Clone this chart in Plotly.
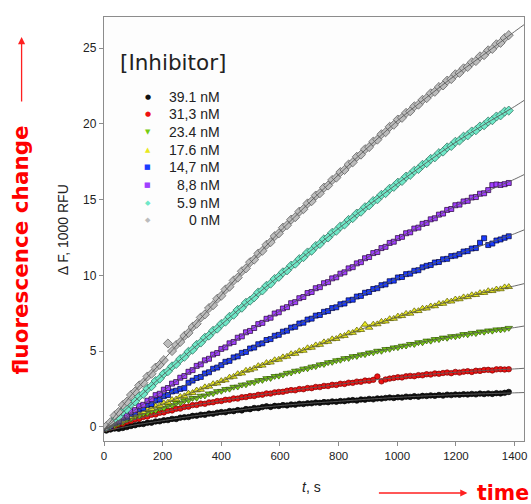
import plotly.graph_objects as go

# ---------------- data ----------------
# sampling times of the measured points (s)
t_points = list(range(8, 1381, 14))

inh_39_1 = [-0.25, -0.18, -0.12, -0.13, -0.08, -0.02, 0.05,
            0.1, 0.17, 0.18, 0.26, 0.27, 0.35, 0.36,
            0.43, 0.44, 0.52, 0.51, 0.6, 0.63, 0.64,
            0.72, 0.73, 0.8, 0.79, 0.87, 0.86, 0.93,
            0.97, 0.96, 1.04, 1.03, 1.1, 1.08, 1.17, 1.16,
            1.24, 1.23, 1.3, 1.35, 1.31, 1.38, 1.37,
            1.43, 1.41, 1.47, 1.46, 1.52, 1.5, 1.55,
            1.55, 1.6, 1.58, 1.63, 1.62, 1.67, 1.65,
            1.7, 1.69, 1.74, 1.76, 1.73, 1.8, 1.79,
            1.84, 1.81, 1.87, 1.86, 1.9, 1.93, 1.9,
            1.95, 1.93, 1.99, 1.97, 2.02, 1.99, 2.04,
            2.03, 2.07, 2.04, 2.1, 2.06, 2.12, 2.09, 2.13,
            2.11, 2.15, 2.13, 2.17, 2.14, 2.19, 2.16,
            2.2, 2.17, 2.22, 2.2, 2.24, 2.3]
inh_31_3 = [-0.12, -0.04, 0.02, 0.16, 0.2, 0.33, 0.38,
            0.5, 0.53, 0.65, 0.67, 0.79, 0.81, 0.92,
            0.95, 1.06, 1.08, 1.19, 1.2, 1.31, 1.33,
            1.43, 1.44, 1.53, 1.52, 1.61, 1.62, 1.7,
            1.7, 1.78, 1.79, 1.87, 1.86, 1.95, 1.96, 2.03,
            2.03, 2.11, 2.12, 2.2, 2.19, 2.27, 2.3,
            2.31, 2.38, 2.42, 2.41, 2.49, 2.48, 2.56,
            2.55, 2.63, 2.62, 2.7, 2.69, 2.77, 2.76,
            2.84, 2.83, 2.91, 2.9, 2.98, 2.97, 3.05,
            3.04, 3.1, 3.32, 3.0, 3.12, 3.18, 3.22,
            3.27, 3.26, 3.33, 3.36, 3.34, 3.41, 3.4,
            3.47, 3.45, 3.52, 3.5, 3.55, 3.58, 3.54, 3.62,
            3.58, 3.64, 3.67, 3.62, 3.7, 3.69, 3.75,
            3.76, 3.72, 3.79, 3.8, 3.78, 3.8]
inh_23_4 = [-0.1, 0.0, 0.08, 0.24, 0.3, 0.47, 0.52,
            0.68, 0.72, 0.86, 0.9, 1.04, 1.07, 1.22,
            1.24, 1.39, 1.42, 1.56, 1.58, 1.72, 1.75,
            1.89, 1.9, 2.04, 2.05, 2.19, 2.2, 2.34,
            2.36, 2.48, 2.5, 2.63, 2.64, 2.77, 2.79, 2.92,
            2.93, 3.06, 3.08, 3.2, 3.21, 3.34, 3.36,
            3.43, 3.55, 3.57, 3.69, 3.71, 3.83, 3.85,
            3.96, 3.99, 4.11, 4.13, 4.25, 4.27, 4.38,
            4.41, 4.52, 4.53, 4.65, 4.66, 4.77, 4.78,
            4.89, 4.9, 5.01, 5.0, 5.12, 5.13, 5.23,
            5.24, 5.34, 5.35, 5.46, 5.45, 5.57, 5.56,
            5.68, 5.67, 5.78, 5.77, 5.88, 5.86, 5.97, 5.96,
            6.02, 6.11, 6.09, 6.19, 6.17, 6.28, 6.26,
            6.35, 6.33, 6.42, 6.41, 6.45, 6.52]
inh_17_6 = [-0.1, 0.04, 0.12, 0.31, 0.38, 0.57, 0.65,
            0.78, 0.94, 0.98, 1.15, 1.19, 1.36, 1.4,
            1.56, 1.61, 1.78, 1.82, 1.99, 2.03, 2.2,
            2.24, 2.41, 2.45, 2.62, 2.66, 2.83, 2.87,
            3.03, 3.08, 3.26, 3.31, 3.49, 3.53, 3.71, 3.75,
            3.85, 4.02, 4.05, 4.22, 4.25, 4.41, 4.44,
            4.6, 4.64, 4.81, 4.83, 5.0, 5.03, 5.2,
            5.23, 5.39, 5.42, 5.59, 5.62, 5.79, 5.81,
            5.97, 6.01, 6.18, 6.21, 6.37, 6.4, 6.75,
            6.55, 6.76, 6.78, 6.94, 6.96, 7.12, 7.14,
            7.29, 7.32, 7.47, 7.48, 7.64, 7.65, 7.81,
            7.82, 7.96, 7.97, 8.12, 8.13, 8.28, 8.28, 8.42,
            8.43, 8.56, 8.57, 8.7, 8.71, 8.84, 8.85,
            8.97, 8.97, 9.08, 9.09, 9.22, 9.24]
inh_14_7 = [-0.08, 0.02, 0.24, 0.33, 0.55, 0.62, 0.86,
            0.93, 1.15, 1.22, 1.45, 1.5, 1.74, 1.8,
            2.02, 2.1, 2.33, 2.38, 2.5, 2.55, 2.91,
            3.05, 3.22, 3.29, 3.52, 3.6, 3.83, 3.91,
            4.07, 4.29, 4.35, 4.58, 4.65, 4.88, 4.94, 5.17,
            5.23, 5.45, 5.51, 5.73, 5.79, 6.01, 6.07,
            6.28, 6.34, 6.55, 6.6, 6.82, 6.87, 7.08,
            7.14, 7.34, 7.38, 7.59, 7.64, 7.84, 7.89,
            8.09, 8.14, 8.35, 8.39, 8.6, 8.64, 8.85,
            8.9, 9.1, 9.15, 9.35, 9.4, 9.61, 9.65,
            9.86, 9.89, 10.08, 10.11, 10.3, 10.34, 10.53,
            10.63, 10.68, 10.85, 10.88, 11.06, 11.09, 11.27, 11.3,
            11.4, 11.57, 11.6, 11.77, 11.8, 12.15, 12.45,
            12.0, 12.1, 12.3, 12.37, 12.48, 12.58]
inh_8_8 = [-0.06, 0.05, 0.3, 0.4, 0.66, 0.74, 1.0,
           1.1, 1.36, 1.45, 1.72, 1.82, 2.09, 2.18,
           2.45, 2.56, 2.85, 2.95, 3.24, 3.35, 3.63,
           3.74, 4.02, 4.12, 4.39, 4.49, 4.77, 4.87,
           5.14, 5.24, 5.51, 5.6, 5.88, 5.97, 6.24, 6.33,
           6.52, 6.78, 6.86, 7.13, 7.2, 7.48, 7.56,
           7.81, 7.9, 8.16, 8.23, 8.49, 8.57, 8.83,
           8.9, 9.15, 9.22, 9.48, 9.55, 9.8, 9.87,
           10.11, 10.2, 10.46, 10.54, 10.79, 10.87, 11.13,
           11.21, 11.47, 11.54, 11.8, 11.88, 12.14, 12.22,
           12.46, 12.54, 12.78, 12.84, 13.09, 13.15, 13.4,
           13.46, 13.7, 13.77, 14.01, 14.08, 14.32, 14.38, 14.63,
           14.67, 14.88, 14.92, 15.14, 15.17, 15.39, 15.42,
           15.63, 15.96, 16.0, 15.97, 16.02, 16.1]
inh_5_9 = [-0.02, 0.16, 0.5, 0.66, 1.0, 1.16, 1.5,
           1.67, 2.01, 2.17, 2.51, 2.68, 3.02, 3.18,
           3.51, 3.67, 3.99, 4.14, 4.47, 4.62, 4.95,
           5.09, 5.41, 5.56, 5.88, 6.02, 6.34, 6.48,
           6.79, 6.94, 7.26, 7.4, 7.72, 7.86, 8.19, 8.33,
           8.55, 8.87, 9.0, 9.31, 9.45, 9.76, 9.9,
           10.2, 10.33, 10.64, 10.77, 11.07, 11.2, 11.51,
           11.63, 11.94, 12.07, 12.38, 12.5, 12.81, 12.94,
           13.23, 13.36, 13.66, 13.78, 14.08, 14.2, 14.5,
           14.62, 14.91, 15.02, 15.32, 15.43, 15.72, 15.84,
           16.12, 16.23, 16.52, 16.63, 16.91, 17.02, 17.3,
           17.41, 17.69, 17.79, 18.07, 18.17, 18.45, 18.54, 18.82,
           18.9, 19.16, 19.24, 19.5, 19.58, 19.83, 19.91,
           20.16, 20.24, 20.49, 20.56, 20.81, 20.88]
inh_0 = [0.04, 0.3, 0.74, 0.98, 1.43, 1.66, 2.1,
         2.33, 2.73, 2.91, 3.32, 3.5, 3.91, 4.09,
         4.4, 5.5, 5.0, 5.4, 5.6, 6.0, 6.2,
         6.6, 6.8, 7.22, 7.42, 7.84, 8.03, 8.45,
         8.65, 9.06, 9.25, 9.66, 9.85, 10.27, 10.46, 10.87,
         11.04, 11.44, 11.62, 12.02, 12.19, 12.59, 12.77,
         13.15, 13.31, 13.68, 13.84, 14.21, 14.37, 14.75,
         14.9, 15.27, 15.42, 15.79, 15.93, 16.3, 16.45,
         16.82, 16.96, 17.32, 17.46, 17.83, 17.97, 18.33,
         18.47, 18.83, 18.96, 19.32, 19.45, 19.81, 19.94,
         20.29, 20.4, 20.73, 20.83, 21.16, 21.27, 21.59,
         21.7, 22.02, 22.12, 22.44, 22.54, 22.86, 22.96, 23.28,
         23.37, 23.67, 23.76, 24.07, 24.15, 24.46, 24.54,
         24.86, 24.95, 25.26, 25.35, 25.67, 25.86]

# fitted progress curves
fit_t = [0, 100, 200, 300, 400, 500, 600, 700, 800, 900, 1000, 1100, 1200, 1300, 1400, 1432]
fit_39_1 = [-0.3, 0.1, 0.4, 0.7, 0.95, 1.2, 1.4, 1.55, 1.68, 1.82, 1.94, 2.04, 2.12, 2.18, 2.24, 2.26]
fit_31_3 = [-0.2, 0.45, 0.95, 1.4, 1.72, 2.02, 2.3, 2.55, 2.8, 3.05, 3.25, 3.45, 3.6, 3.72, 3.82, 3.86]
fit_23_4 = [-0.2, 0.62, 1.25, 1.85, 2.38, 2.9, 3.4, 3.9, 4.4, 4.85, 5.25, 5.65, 6.0, 6.3, 6.55, 6.65]
fit_17_6 = [-0.2, 0.75, 1.5, 2.25, 3.0, 3.8, 4.5, 5.2, 5.9, 6.6, 7.25, 7.85, 8.4, 8.9, 9.3, 9.45]
fit_14_7 = [-0.2, 0.9, 1.95, 3.0, 4.1, 5.15, 6.15, 7.1, 8.0, 8.9, 9.8, 10.6, 11.35, 12.05, 12.75, 13.0]
fit_8_8 = [-0.2, 1.05, 2.35, 3.75, 5.1, 6.4, 7.65, 8.85, 10.0, 11.2, 12.4, 13.5, 14.6, 15.5, 16.35, 16.65]
fit_5_9 = [-0.2, 1.6, 3.4, 5.1, 6.75, 8.4, 10.0, 11.55, 13.1, 14.6, 16.05, 17.45, 18.8, 20.0, 21.15, 21.55]
fit_0 = [-0.2, 2.25, 4.35, 6.5, 8.7, 10.85, 12.9, 14.8, 16.65, 18.45, 20.2, 21.75, 23.25, 24.65, 26.1, 26.55]

series_labels = ["39.1 nM", "31,3 nM", "23.4 nM", "17.6 nM", "14,7 nM", "8,8 nM", "5.9 nM", "0 nM"]
x_ticks = [0, 200, 400, 600, 800, 1000, 1200, 1400]
y_ticks = [0, 5, 10, 15, 20, 25]

# ---------------- styling ----------------
points = [inh_39_1, inh_31_3, inh_23_4, inh_17_6, inh_14_7, inh_8_8, inh_5_9, inh_0]
fits = [fit_39_1, fit_31_3, fit_23_4, fit_17_6, fit_14_7, fit_8_8, fit_5_9, fit_0]
styles = [
    dict(symbol="circle", color="#111111", line="#000000", size=5.5, glyph="\u25CF"),
    dict(symbol="circle", color="#ee1111", line="#7a0000", size=5.5, glyph="\u25CF"),
    dict(symbol="triangle-down", color="#77cc11", line="#2f5500", size=6.5, glyph="\u25BC"),
    dict(symbol="triangle-up", color="#e8e820", line="#555500", size=6.5, glyph="\u25B2"),
    dict(symbol="square", color="#1a3cff", line="#000033", size=5, glyph="\u25A0"),
    dict(symbol="square", color="#a040ff", line="#220033", size=5, glyph="\u25A0"),
    dict(symbol="diamond", color="#70e8c8", line="#2a6655", size=7, glyph="\u25C6"),
    dict(symbol="diamond", color="#bcbcbc", line="#555555", size=7, glyph="\u25C6"),
]

fig = go.Figure()
for ys, st, name in zip(points, styles, series_labels):
    fig.add_trace(go.Scatter(
        x=t_points[:len(ys)], y=ys, mode="markers", name=name, showlegend=False,
        marker=dict(symbol=st["symbol"], size=st["size"], color=st["color"],
                    line=dict(color=st["line"], width=0.7)),
    ))
for ys in fits:
    fig.add_trace(go.Scatter(
        x=fit_t, y=ys, mode="lines", showlegend=False, hoverinfo="skip",
        line=dict(color="#5a5a5a", width=0.9, shape="spline", smoothing=0.6),
    ))

# figure geometry in pixels (page margin is removed by the post script)
W, H = 531, 504
L, R, T, B = 104, 527, 17, 441


def px(x):
    """screen x pixel -> paper x"""
    return (x - L) / (R - L)


def py(y):
    """screen y pixel -> paper y"""
    return (B - y) / (B - T)


axis_common = dict(
    showgrid=False, zeroline=False, showline=True, mirror=True,
    linecolor="#8c8c8c", linewidth=1.3,
    ticks="outside", ticklen=4, tickwidth=1, tickcolor="#8c8c8c",
)
tick_font_y = dict(family="Liberation Sans, Arial, sans-serif", size=12, color="#222222")
tick_font_x = dict(family="Liberation Sans, Arial, sans-serif", size=11.5, color="#222222")

annotations = []
# axis titles
annotations.append(dict(xref="paper", yref="paper", x=px(63), y=py(230), showarrow=False,
                        text="\u0394 F, 1000 RFU", textangle=-90,
                        font=dict(family="Liberation Sans, Arial, sans-serif", size=14, color="#222222"),
                        xanchor="center", yanchor="middle"))
annotations.append(dict(xref="paper", yref="paper", x=px(313), y=py(487), showarrow=False,
                        text="<i>t</i>, s",
                        font=dict(family="Liberation Sans, Arial, sans-serif", size=14, color="#222222"),
                        xanchor="center", yanchor="middle"))
# red side labels and arrows
annotations.append(dict(xref="paper", yref="paper", x=px(19), y=py(250), showarrow=False,
                        text="<b>fluorescence change</b>", textangle=-90,
                        font=dict(family="DejaVu Sans, Verdana, sans-serif", size=21.5, color="#ff0000"),
                        xanchor="center", yanchor="middle"))
annotations.append(dict(xref="paper", yref="paper", x=px(21), y=py(37), ax=0, ay=66,
                        axref="pixel", ayref="pixel", text="", showarrow=True,
                        arrowhead=2, arrowsize=1.1, arrowwidth=1.3, arrowcolor="#ff2020", standoff=0))
annotations.append(dict(xref="paper", yref="paper", x=px(478), y=py(493), showarrow=False,
                        text="<b>time</b>",
                        font=dict(family="DejaVu Sans, Verdana, sans-serif", size=20.5, color="#ff0000"),
                        xanchor="left", yanchor="middle"))
annotations.append(dict(xref="paper", yref="paper", x=px(470), y=py(493), ax=-90, ay=0,
                        axref="pixel", ayref="pixel", text="", showarrow=True,
                        arrowhead=2, arrowsize=1.1, arrowwidth=1.3, arrowcolor="#ff2020", standoff=0))
# legend
annotations.append(dict(xref="paper", yref="paper", x=px(118), y=py(62), showarrow=False,
                        text="[Inhibitor]",
                        font=dict(family="DejaVu Sans, Verdana, sans-serif", size=21.5, color="#222222"),
                        xanchor="left", yanchor="middle"))
for i, (st, name) in enumerate(zip(styles, series_labels)):
    yc = 96.7 + 17.65 * i
    annotations.append(dict(xref="paper", yref="paper", x=px(148), y=py(yc), showarrow=False,
                            text=st["glyph"],
                            font=dict(family="DejaVu Sans, sans-serif", size=7, color=st["color"]),
                            xanchor="center", yanchor="middle"))
    annotations.append(dict(xref="paper", yref="paper", x=px(223), y=py(yc), showarrow=False,
                            text=name,
                            font=dict(family="Liberation Sans, Arial, sans-serif", size=14, color="#222222"),
                            xanchor="right", yanchor="middle"))

fig.update_layout(
    width=W, height=H, autosize=False,
    margin=dict(l=L, r=W - R, t=T, b=H - B, pad=0),
    paper_bgcolor="#ffffff", plot_bgcolor="#fdfdfd",
    showlegend=False,
    xaxis=dict(range=[0, 1432], tickvals=x_ticks, tickfont=tick_font_x,
               ticklabeloverflow="allow", **axis_common),
    yaxis=dict(range=[-0.94, 27.06], tickvals=y_ticks, tickfont=tick_font_y,
               ticklabeloverflow="allow", **axis_common),
    annotations=annotations,
)

fig.write_html(
    "out.html",
    config={"displayModeBar": False},
    post_script="document.body.style.margin='0';"
                "document.documentElement.style.overflow='hidden';"
                "document.body.style.overflow='hidden';",
)
